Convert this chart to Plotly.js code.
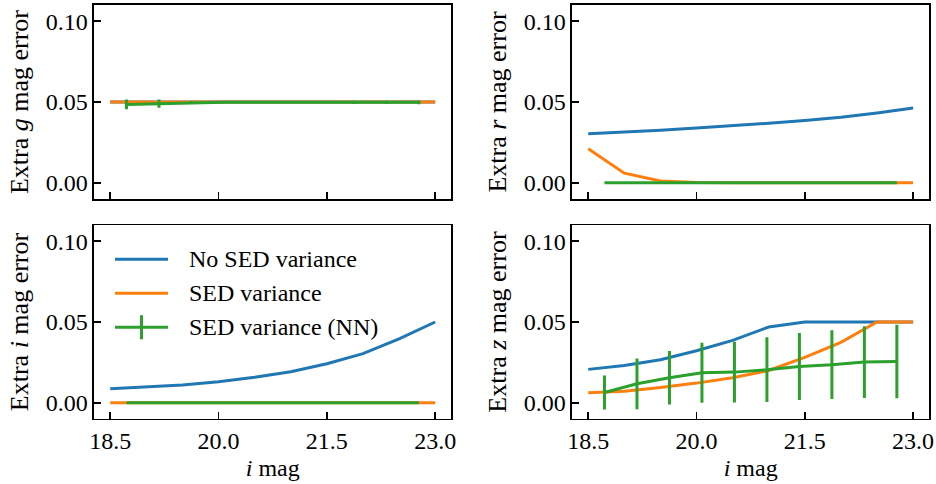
<!DOCTYPE html>
<html>
<head>
<meta charset="utf-8">
<script src="https://cdn.plot.ly/plotly-3.0.1.min.js"></script>
<style>
  html, body { margin: 0; padding: 0; background: #fff; }
  #chart { width: 936px; height: 484px; }
</style>
</head>
<body>
<div id="chart"></div>
<script>
// i-band magnitude grid for the analytic curves, and NN bin centres
const magGrid = [18.5, 19.0, 19.5, 20.0, 20.5, 21.0, 21.5, 22.0, 22.5, 23.0];
const nnGrid = [18.725, 19.175, 19.625, 20.075, 20.525, 20.975, 21.425, 21.875, 22.325, 22.775];

// g band
const gNoSed = [0.050, 0.050, 0.050, 0.050, 0.050, 0.050, 0.050, 0.050, 0.050, 0.050];
const gSed = [0.050, 0.050, 0.050, 0.050, 0.050, 0.050, 0.050, 0.050, 0.050, 0.050];
const gNN = [0.0485, 0.0490, 0.0497, 0.0498, 0.0499, 0.0499, 0.0499, 0.0498, 0.0498, 0.0498];
const gNNErr = [0.0030, 0.0025, 0.0010, 0.0005, 0.0005, 0.0005, 0.0005, 0.0010, 0.0010, 0.0012];

// r band
const rNoSed = [0.0304, 0.0314, 0.0326, 0.0339, 0.0353, 0.0369, 0.0386, 0.0406, 0.0432, 0.0463];
const rSed = [0.0211, 0.0060, 0.0012, 0.0002, 0.0, 0.0, 0.0, 0.0, 0.0, 0.0];
const rNN = [0.0, 0.0, 0.0, 0.0, 0.0, 0.0, 0.0, 0.0, 0.0, 0.0];
const rNNErr = [0.0, 0.0, 0.0, 0.0, 0.0, 0.0, 0.0, 0.0, 0.0, 0.0];

// i band
const iNoSed = [0.0087, 0.0097, 0.0110, 0.0130, 0.0158, 0.0192, 0.0242, 0.0304, 0.0395, 0.0500];
const iSed = [0.0, 0.0, 0.0, 0.0, 0.0, 0.0, 0.0, 0.0, 0.0, 0.0];
const iNN = [0.0, 0.0, 0.0, 0.0, 0.0, 0.0, 0.0, 0.0, 0.0, 0.0];
const iNNErr = [0.0, 0.0, 0.0, 0.0, 0.0, 0.0, 0.0, 0.0, 0.0, 0.0];

// z band
const zNoSed = [0.0207, 0.0231, 0.0267, 0.0322, 0.0386, 0.0469, 0.0500, 0.0500, 0.0500, 0.0500];
const zSed = [0.0062, 0.0072, 0.0095, 0.0122, 0.0155, 0.0200, 0.0281, 0.0374, 0.0500, 0.0500];
const zNN = [0.0064, 0.0118, 0.0155, 0.0186, 0.0190, 0.0205, 0.0225, 0.0236, 0.0252, 0.0256];
const zNNErr = [0.0105, 0.0157, 0.0165, 0.0186, 0.0188, 0.0200, 0.0207, 0.0213, 0.0222, 0.0227];

const seriesNames = ['No SED variance', 'SED variance', 'SED variance (NN)'];
const bandLabels = ['g', 'r', 'i', 'z'];
const xTicks = [18.5, 20.0, 21.5, 23.0];
const xTickText = ['18.5', '20.0', '21.5', '23.0'];
const yTicks = [0.0, 0.05, 0.10];

const BLUE = '#1f77b4', ORANGE = '#ff7f0e', GREEN = '#2ca02c';
const FONT = 'Liberation Serif';
const SIZE = 24;
const YTITLE_SIZE = 26;

const panels = [
  { noSed: gNoSed, sed: gSed, nn: gNN, err: gNNErr },
  { noSed: rNoSed, sed: rSed, nn: rNN, err: rNNErr },
  { noSed: iNoSed, sed: iSed, nn: iNN, err: iNNErr },
  { noSed: zNoSed, sed: zSed, nn: zNN, err: zNNErr }
];

const traces = [];
panels.forEach((p, k) => {
  const xa = k === 0 ? 'x' : 'x' + (k + 1);
  const ya = k === 0 ? 'y' : 'y' + (k + 1);
  traces.push({
    x: magGrid, y: p.noSed, xaxis: xa, yaxis: ya, type: 'scatter', mode: 'lines',
    name: seriesNames[0], showlegend: false,
    line: { color: BLUE, width: 3 }
  });
  traces.push({
    x: magGrid, y: p.sed, xaxis: xa, yaxis: ya, type: 'scatter', mode: 'lines',
    name: seriesNames[1], showlegend: false,
    line: { color: ORANGE, width: 3 }
  });
  traces.push({
    x: nnGrid, y: p.nn, xaxis: xa, yaxis: ya, type: 'scatter', mode: 'lines',
    name: seriesNames[2], showlegend: false,
    line: { color: GREEN, width: 3 },
    error_y: { type: 'data', array: p.err, visible: true, color: GREEN, thickness: 3, width: 0 }
  });
});

// panel geometry (paper fractions)
const colDomains = [[0.1004, 0.4823], [0.6111, 0.9929]];
const rowDomains = [[0.5888, 0.9897], [0.1343, 0.5351]];

function xAxis(k) {
  const bottom = k >= 2;
  return {
    domain: colDomains[k % 2],
    anchor: k === 0 ? 'y' : 'y' + (k + 1),
    range: [18.275, 23.225],
    tickvals: xTicks, ticktext: xTickText,
    showticklabels: bottom,
    ticks: 'inside', ticklen: 7, tickwidth: 1.5, tickcolor: '#000',
    showline: true, mirror: true, linecolor: '#000', linewidth: 1.5,
    showgrid: false, zeroline: false,
    tickfont: { family: FONT, size: SIZE, color: '#000' },
    title: bottom ? { text: '<i>i</i> mag', font: { family: FONT, size: SIZE, color: '#000' }, standoff: 6 } : { text: '' }
  };
}
function yAxis(k) {
  return {
    domain: rowDomains[Math.floor(k / 2)],
    anchor: k === 0 ? 'x' : 'x' + (k + 1),
    range: [-0.01, 0.11],
    tickvals: yTicks, tickformat: '.2f',
    ticks: 'inside', ticklen: 7, tickwidth: 1.5, tickcolor: '#000',
    showline: true, mirror: true, linecolor: '#000', linewidth: 1.5,
    showgrid: false, zeroline: false,
    tickfont: { family: FONT, size: SIZE, color: '#000' },
    title: { text: 'Extra <i>' + bandLabels[k] + '</i> mag error', font: { family: FONT, size: YTITLE_SIZE, color: '#000' }, standoff: 9 }
  };
}

// legend drawn inside the lower-left panel, in that panel's domain units
const legendRows = [0.823, 0.648, 0.473];
const legendColors = [BLUE, ORANGE, GREEN];
const shapes = [];
const annotations = [];
legendRows.forEach((yy, i) => {
  shapes.push({
    type: 'line', xref: 'x3 domain', yref: 'y3 domain',
    x0: 0.0588, x1: 0.207, y0: yy, y1: yy,
    line: { color: legendColors[i], width: 3 }
  });
  annotations.push({
    xref: 'x3 domain', yref: 'y3 domain', x: 0.259, y: yy,
    xanchor: 'left', yanchor: 'middle', showarrow: false,
    text: seriesNames[i], font: { family: FONT, size: SIZE, color: '#000' }
  });
});
shapes.push({
  type: 'line', xref: 'x3 domain', yref: 'y3 domain',
  x0: 0.133, x1: 0.133, y0: 0.411, y1: 0.535,
  line: { color: GREEN, width: 3 }
});

const layout = {
  width: 936, height: 484,
  margin: { l: 0, r: 0, t: 0, b: 0 },
  paper_bgcolor: '#fff', plot_bgcolor: '#fff',
  font: { family: FONT, size: SIZE, color: '#000' },
  showlegend: false,
  shapes: shapes,
  annotations: annotations
};
for (let k = 0; k < 4; k++) {
  layout[k === 0 ? 'xaxis' : 'xaxis' + (k + 1)] = xAxis(k);
  layout[k === 0 ? 'yaxis' : 'yaxis' + (k + 1)] = yAxis(k);
}

Plotly.newPlot('chart', traces, layout, { displayModeBar: false, staticPlot: true });
</script>
</body>
</html>
